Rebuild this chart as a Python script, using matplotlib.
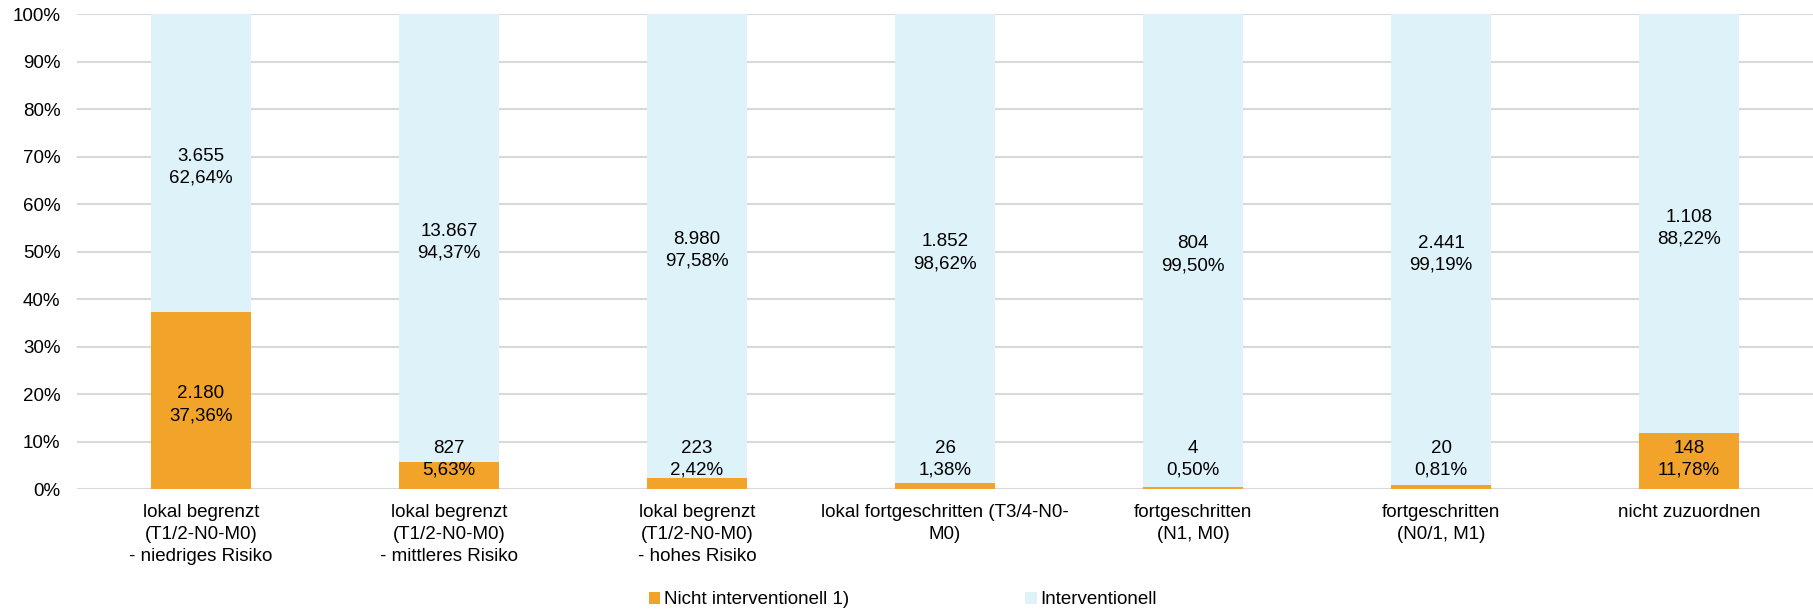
import matplotlib
matplotlib.use("Agg")
import matplotlib.pyplot as plt
import numpy as np

plt.rcParams['font.family'] = ['Liberation Sans', 'DejaVu Sans']

categories = [
    "lokal begrenzt\n(T1/2-N0-M0)\n- niedriges Risiko",
    "lokal begrenzt\n(T1/2-N0-M0)\n- mittleres Risiko",
    "lokal begrenzt\n(T1/2-N0-M0)\n- hohes Risiko",
    "lokal fortgeschritten (T3/4-N0-\nM0)",
    "fortgeschritten\n(N1, M0)",
    "fortgeschritten\n(N0/1, M1)",
    "nicht zuzuordnen",
]
nicht_int_n = [2180, 827, 223, 26, 4, 20, 148]
nicht_int_pct = [37.36, 5.63, 2.42, 1.38, 0.50, 0.81, 11.78]
int_n = [3655, 13867, 8980, 1852, 804, 2441, 1108]
int_pct = [62.64, 94.37, 97.58, 98.62, 99.50, 99.19, 88.22]

ORANGE = "#F2A42A"
LIGHTBLUE = "#DEF2FA"
FS = 13.5


def fmt_n(n):
    return f"{n:,}".replace(",", ".")


def fmt_pct(p):
    return f"{p:.2f}%".replace(".", ",")


fig = plt.figure(figsize=(18.13, 6.10), dpi=100)
ax = fig.add_axes([0.0425, 0.198, 0.9575, 0.779])

x = np.arange(len(categories))
w = 0.4
ax.bar(x, nicht_int_pct, w, color=ORANGE, label="Nicht interventionell 1)", zorder=2)
ax.bar(x, int_pct, w, bottom=nicht_int_pct, color=LIGHTBLUE, label="Interventionell", zorder=2)

# labels: centred in segment, small segments pushed up so the text stays above the base line
# (shifted down a touch, like the Excel original)
for i in range(len(categories)):
    y0 = max(nicht_int_pct[i] / 2, 7.2) - 0.9
    ax.text(x[i], y0, fmt_n(nicht_int_n[i]) + "\n" + fmt_pct(nicht_int_pct[i]),
            ha="center", va="center", fontsize=FS, linespacing=1.37, zorder=3)
    y1 = nicht_int_pct[i] + int_pct[i] / 2 - 0.9
    ax.text(x[i], y1, fmt_n(int_n[i]) + "\n" + fmt_pct(int_pct[i]),
            ha="center", va="center", fontsize=FS, linespacing=1.37, zorder=3)

ax.set_xlim(-0.5, len(categories) - 0.5)
ax.set_ylim(0, 100)
ax.set_yticks(np.arange(0, 101, 10))
ax.set_yticklabels([f"{v}%" for v in range(0, 101, 10)])
ax.set_xticks(x)
ax.set_xticklabels(categories, linespacing=1.38)
ax.tick_params(axis="both", length=0, labelsize=FS)
ax.tick_params(axis="x", pad=11)
ax.tick_params(axis="y", pad=12)
ax.yaxis.grid(True, color="#D9D9D9", linewidth=1.5, zorder=0)
ax.set_axisbelow(True)
for s in ax.spines.values():
    s.set_visible(False)

ax.legend(loc="center", bbox_to_anchor=(903 / 1813, 10 / 610), bbox_transform=fig.transFigure,
          ncol=2, frameon=False, fontsize=FS, handlelength=0.6, handleheight=0.6,
          handletextpad=0.2, columnspacing=9.4)

fig.savefig("out.png", dpi=100)
